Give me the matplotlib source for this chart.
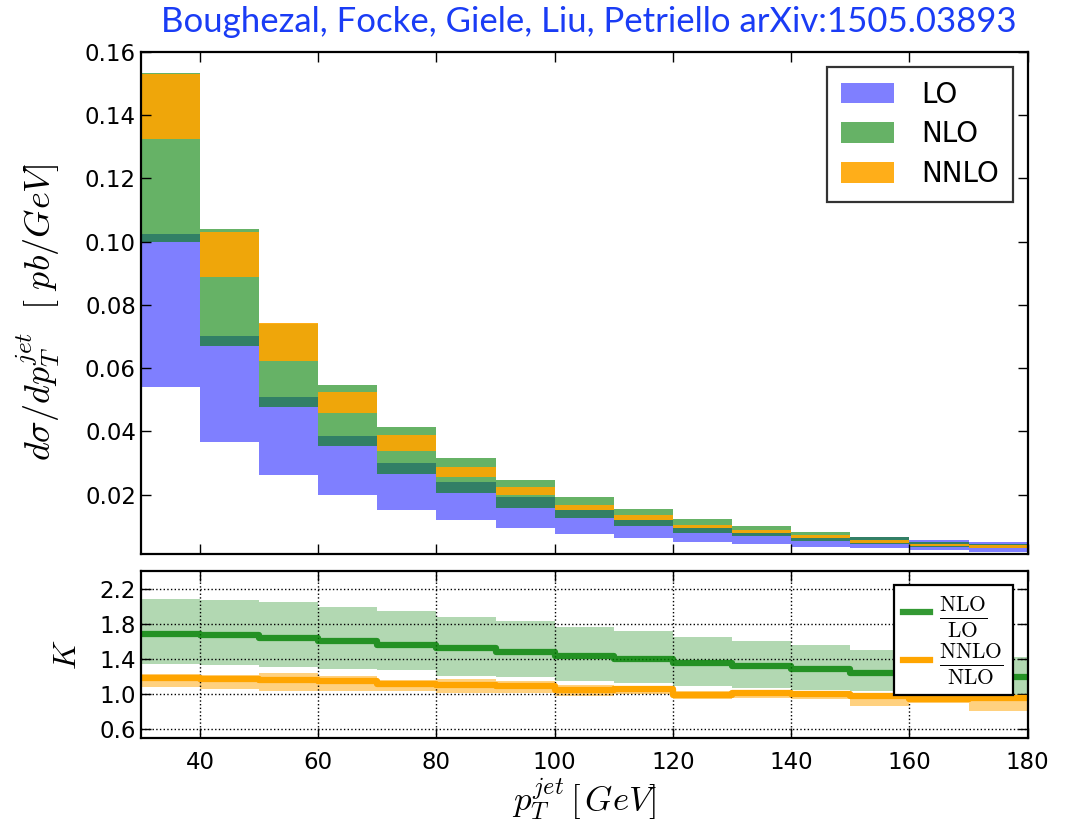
import numpy as np
import matplotlib
matplotlib.use("Agg")
import matplotlib.pyplot as plt
from matplotlib.patches import Patch
from matplotlib.lines import Line2D

plt.rcParams["mathtext.fontset"] = "cm"
plt.rcParams["font.family"] = "DejaVu Sans"

# ── dados ──────────────────────────────────────────────────────────────────────
edges = np.arange(30, 181, 10)

lo_lo   = [0.0540, 0.0366, 0.0263, 0.0198, 0.0153, 0.0121, 0.0096, 0.0077,
           0.0064, 0.0052, 0.0045, 0.0035, 0.0033, 0.0025, 0.0020]
lo_hi   = [0.1024, 0.0700, 0.0510, 0.0387, 0.0301, 0.0241, 0.0194, 0.0153,
           0.0121, 0.0094, 0.0079, 0.0063, 0.0067, 0.0057, 0.0049]
nlo_lo  = [0.0999, 0.0669, 0.0476, 0.0353, 0.0266, 0.0204, 0.0159, 0.0125,
           0.0102, 0.0080, 0.0068, 0.0054, 0.0045, 0.0034, 0.0030]
nlo_hi  = [0.1534, 0.1040, 0.0738, 0.0548, 0.0415, 0.0317, 0.0247, 0.0193,
           0.0155, 0.0124, 0.0101, 0.0082, 0.0067, 0.0049, 0.0045]
nnlo_lo = [0.1325, 0.0888, 0.0624, 0.0457, 0.0339, 0.0257, 0.0200, 0.0153,
           0.0121, 0.0094, 0.0079, 0.0063, 0.0048, 0.0038, 0.0033]
nnlo_hi = [0.1530, 0.1030, 0.0742, 0.0526, 0.0390, 0.0288, 0.0225, 0.0168,
           0.0136, 0.0105, 0.0088, 0.0072, 0.0058, 0.0044, 0.0040]

k_nlo     = [1.686, 1.670, 1.636, 1.601, 1.560, 1.529, 1.476, 1.434,
             1.400, 1.354, 1.316, 1.281, 1.243, 1.220, 1.190]
k_nlo_lo  = [1.346, 1.335, 1.312, 1.281, 1.274, 1.209, 1.190, 1.144,
             1.126, 1.087, 1.068, 1.049, 1.030, 1.000, 0.980]
k_nlo_hi  = [2.086, 2.074, 2.051, 1.994, 1.949, 1.880, 1.834, 1.766,
             1.723, 1.655, 1.609, 1.560, 1.498, 1.460, 1.423]
k_nnlo    = [1.178, 1.167, 1.155, 1.150, 1.114, 1.098, 1.087, 1.049,
             1.060, 0.992, 1.011, 1.000, 0.984, 0.943, 0.961]
k_nnlo_lo = [1.076, 1.061, 1.041, 1.041, 1.030, 1.011, 1.011, 0.973,
             1.000, 0.943, 0.961, 0.943, 0.870, 0.904, 0.813]
k_nnlo_hi = [1.232, 1.217, 1.240, 1.209, 1.163, 1.171, 1.144, 1.100,
             1.090, 1.030, 1.049, 1.041, 1.018, 0.977, 0.994]

TITLE = "Boughezal, Focke, Giele, Liu, Petriello arXiv:1505.03893"


def faixa(ax, lo, hi, **kw):
    lo = np.asarray(lo)
    hi = np.asarray(hi)
    ax.bar(edges[:-1], hi - lo, bottom=lo, width=10, align="edge",
           linewidth=0, **kw)


def degraus(ax, vals, **kw):
    v = np.append(vals, vals[-1])
    ax.step(edges, v, where="post", **kw)


def estilo(ax):
    ax.tick_params(direction="in", top=True, right=True, length=7,
                   width=1, labelsize=16.5)
    ax.tick_params(axis="x", pad=9)
    for s in ax.spines.values():
        s.set_linewidth(1.6)


fig = plt.figure(figsize=(10.75, 8.21), dpi=100)
ax1 = fig.add_axes([0.131, 0.325, 0.825, 0.612])
ax2 = fig.add_axes([0.131, 0.101, 0.825, 0.2035], sharex=ax1)

# ── painel superior ───────────────────────────────────────────────────────────
faixa(ax1, lo_lo, lo_hi, color="blue", alpha=0.5)
faixa(ax1, nlo_lo, nlo_hi, color="green", alpha=0.6)
faixa(ax1, nnlo_lo, nnlo_hi, color="orange", alpha=0.9)

ax1.set_xlim(30, 180)
ax1.set_ylim(0.0012, 0.16)
ax1.set_yticks([0.02, 0.04, 0.06, 0.08, 0.10, 0.12, 0.14, 0.16])
ax1.set_xticks(np.arange(40, 181, 20))
plt.setp(ax1.get_xticklabels(), visible=False)
estilo(ax1)
ax1.set_ylabel(r"$d\sigma/dp_T^{jet}\ \ [\ pb/GeV]$", fontsize=26)
ax1.yaxis.set_label_coords(-0.089, 0.482)

handles = [Patch(facecolor="blue", alpha=0.5, linewidth=0, label="LO"),
           Patch(facecolor="green", alpha=0.6, linewidth=0, label="NLO"),
           Patch(facecolor="orange", alpha=0.9, linewidth=0, label="NNLO")]
leg = ax1.legend(handles=handles, loc="upper right", fontsize=20,
                 frameon=True, fancybox=False, edgecolor="black",
                 handlelength=1.9, handleheight=0.75, borderpad=0.5,
                 labelspacing=0.42, handletextpad=1.0,
                 bbox_to_anchor=(0.9835, 0.97), borderaxespad=0)
leg.get_frame().set_linewidth(1.6)

# ── painel inferior (K) ───────────────────────────────────────────────────────
faixa(ax2, k_nlo_lo, k_nlo_hi, color="green", alpha=0.3)
faixa(ax2, k_nnlo_lo, k_nnlo_hi, color="orange", alpha=0.5)
degraus(ax2, k_nlo, color="green", alpha=0.8, linewidth=4.5)
degraus(ax2, k_nnlo, color="orange", linewidth=4.5)

ax2.set_ylim(0.5, 2.4)
ax2.set_yticks([0.6, 1.0, 1.4, 1.8, 2.2])
ax2.set_xticks(np.arange(40, 181, 20))
ax2.grid(True, color="black", linestyle=":", linewidth=1)
estilo(ax2)
ax2.set_ylabel(r"$K$", fontsize=23)
ax2.yaxis.set_label_coords(-0.065, 0.5)
ax2.set_xlabel(r"$p_T^{jet}\,[\,GeV]$", fontsize=25, labelpad=2)

lhandles = [Line2D([], [], color="green", alpha=0.8, linewidth=4.5),
            Line2D([], [], color="orange", linewidth=4.5)]
leg2 = ax2.legend(lhandles, [r"$\frac{\rm NLO}{\rm LO}$",
                             r"$\frac{\rm NNLO}{\rm NLO}$"],
                  loc="upper right", fontsize=22, frameon=True,
                  fancybox=False, edgecolor="black", framealpha=1,
                  handlelength=0.9, borderpad=0.3, labelspacing=0.1,
                  handletextpad=0.3, bbox_to_anchor=(0.983, 0.916),
                  borderaxespad=0)
leg2.get_frame().set_linewidth(1.6)

fig.text(0.548, 0.973, TITLE, ha="center", va="center", color="#1a3cf5",
         fontsize=25, family="Lato")

fig.savefig("out.png", dpi=100)
